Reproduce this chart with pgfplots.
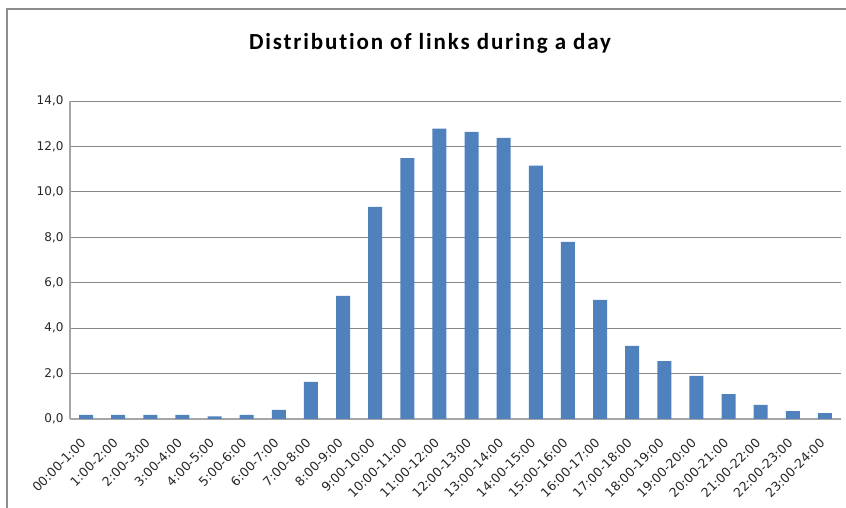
\documentclass[border=0pt]{standalone}
\usepackage{pgfplots}
\pgfplotsset{compat=1.18}
\usepackage{fontspec}
\setmainfont{DejaVu Sans}
\newfontfamily\titlefont[LetterSpace=8,Ligatures=NoCommon]{Carlito}
\definecolor{barblue}{HTML}{4F81BD}
\definecolor{gridgray}{HTML}{868686}
\definecolor{axisgray}{HTML}{A6A6A6}
\definecolor{framegray}{HTML}{8C8C8C}

\begin{document}
\begin{tikzpicture}[x=1pt,y=1pt]
\path[use as bounding box] (0,0) rectangle (846,508);
\draw[framegray, line width=1.5pt] (7,-5) -- (7,499) -- (850,499);
\node[font=\titlefont\bfseries\fontsize{23}{26}\selectfont] at (430,465) {Distribution of links during a day};
\begin{axis}[
    at={(70pt,89pt)}, anchor=south west,
    scale only axis, width=771pt, height=318pt,
    xmin=-0.5, xmax=23.5,
    ymin=0, ymax=14,
    ytick={0,2,...,14},
    xtick={0,...,23},
    xticklabels={\mbox{00:00-1:00},\mbox{1:00-2:00},\mbox{2:00-3:00},\mbox{3:00-4:00},\mbox{4:00-5:00},\mbox{5:00-6:00},\mbox{6:00-7:00},\mbox{7:00-8:00},\mbox{8:00-9:00},\mbox{9:00-10:00},\mbox{10:00-11:00},\mbox{11:00-12:00},\mbox{12:00-13:00},\mbox{13:00-14:00},\mbox{14:00-15:00},\mbox{15:00-16:00},\mbox{16:00-17:00},\mbox{17:00-18:00},\mbox{18:00-19:00},\mbox{19:00-20:00},\mbox{20:00-21:00},\mbox{21:00-22:00},\mbox{22:00-23:00},\mbox{23:00-24:00}},
    axis x line*=bottom, axis y line*=left,
    axis line style={axisgray, line width=1.2pt},
    ymajorgrids=true,
    grid style={gridgray, line width=0.8pt},
    major tick length=0pt,
    tick label style={text=black!85},
    xticklabel style={font=\fontsize{12.6}{14}\selectfont, inner sep=0pt, xshift=-6pt, yshift=-18pt, rotate=45, anchor=north east},
    yticklabel style={font=\fontsize{12}{14}\selectfont, xshift=-3pt},
    /pgf/number format/assume math mode=true,
    y tick label style={/pgf/number format/.cd, fixed, fixed zerofill, precision=1, use comma},
    ybar, bar width=14pt,
]
\addplot[fill=barblue, draw=none] coordinates {
(0,0.18) (1,0.18) (2,0.18) (3,0.18) (4,0.12) (5,0.18) (6,0.40) (7,1.63)
(8,5.42) (9,9.34) (10,11.48) (11,12.78) (12,12.64) (13,12.38) (14,11.15) (15,7.80)
(16,5.24) (17,3.22) (18,2.55) (19,1.90) (20,1.10) (21,0.62) (22,0.35) (23,0.26)};
\end{axis}
\end{tikzpicture}
\end{document}
